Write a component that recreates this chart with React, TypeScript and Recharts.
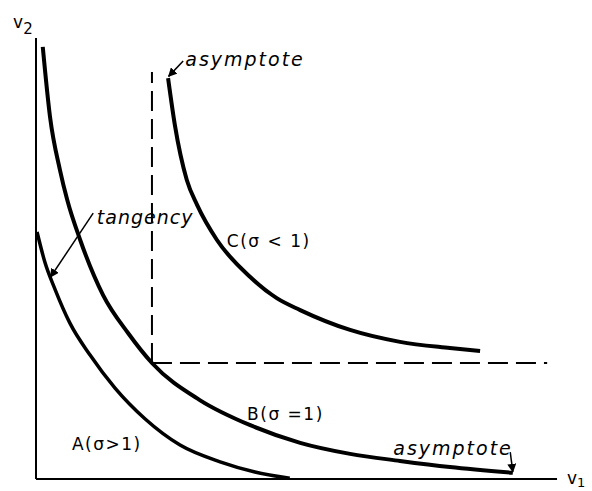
import { LineChart, Line, XAxis, YAxis, ReferenceLine, ReferenceDot } from 'recharts'

// isoquants; v1 runs along x, v2 up y, both in arbitrary units 0-10
const aV1 = [0.02, 0.17, 0.37, 0.65, 1.04, 1.52, 2.1, 2.77, 3.54, 4.21, 4.88]
const aV2 = [5.6, 4.92, 4.29, 3.54, 2.81, 2.06, 1.36, 0.77, 0.39, 0.16, 0.02]

const bV1 = [0.13, 0.27, 0.46, 0.6, 0.85, 1.29, 1.77, 2.23, 3.15, 4.12, 5.08, 6.04, 7.0, 7.96, 9.17]
const bV2 = [9.8, 8.21, 7.01, 6.33, 5.42, 4.17, 3.31, 2.63, 1.79, 1.22, 0.82, 0.57, 0.41, 0.27, 0.14]

const cV1 = [2.54, 2.67, 2.9, 3.1, 3.48, 4.12, 4.63, 5.08, 6.04, 7.0, 7.96, 8.54]
const cV2 = [9.09, 8.03, 6.78, 6.21, 5.42, 4.58, 4.1, 3.83, 3.38, 3.11, 2.97, 2.9]

// asymptotes of C: v1 = 2.23, v2 = 2.63
const asymV1 = 2.23
const asymV2 = 2.63
const asymTop = 9.23
const asymRight = 9.83

const labelText = ['asymptote', 'tangency', 'C(σ < 1)', 'B(σ =1)', 'A(σ>1)', 'asymptote']
const labelV1 = [2.87, 1.17, 3.67, 4.06, 0.69, 6.87]
const labelV2 = [9.37, 5.78, 5.26, 1.34, 0.66, 0.54]
const labelItalic = [true, true, false, false, false, true]

// arrows: [from, to]
const arrows = [
  [{ x: 2.83, y: 9.48 }, { x: 2.55, y: 9.13 }],
  [{ x: 1.1, y: 6.03 }, { x: 0.28, y: 4.58 }],
  [{ x: 9.12, y: 0.61 }, { x: 9.17, y: 0.16 }],
]

const toPoints = (xs: number[], ys: number[]) => xs.map((x, i) => ({ x, y: ys[i] }))

const dataA = toPoints(aV1, aV2)
const dataB = toPoints(bV1, bV2)
const dataC = toPoints(cV1, cV2)

const font = '"DejaVu Sans", sans-serif'

export default function App() {
  return (
    <div style={{ position: 'absolute', left: 0, top: 0, background: '#fff' }}>
      <LineChart width={592} height={491} margin={{ top: 38, right: 36, bottom: 12, left: 36 }}>
        <defs>
          <marker id="arrowHead" viewBox="0 0 10 10" refX="9" refY="5" markerWidth="6" markerHeight="6" orient="auto">
            <path d="M0,0 L10,5 L0,10 z" fill="#000" />
          </marker>
        </defs>
        <XAxis type="number" dataKey="x" domain={[0, 10]} allowDataOverflow hide />
        <YAxis type="number" dataKey="y" domain={[0, 10]} allowDataOverflow hide />

        {/* axes */}
        <ReferenceLine segment={[{ x: 0, y: 0 }, { x: 0, y: 10 }]} stroke="#000" strokeWidth={2} ifOverflow="visible" />
        <ReferenceLine segment={[{ x: 0, y: 0 }, { x: 10.02, y: 0 }]} stroke="#000" strokeWidth={2} ifOverflow="visible" />

        <ReferenceLine
          segment={[{ x: asymV1, y: asymV2 }, { x: asymV1, y: asymTop }]}
          stroke="#000"
          strokeWidth={2}
          strokeDasharray="20 8"
          ifOverflow="visible"
        />
        <ReferenceLine
          segment={[{ x: asymV1, y: asymV2 }, { x: asymRight, y: asymV2 }]}
          stroke="#000"
          strokeWidth={2}
          strokeDasharray="20 8"
          ifOverflow="visible"
        />

        <Line data={dataA} dataKey="y" type="monotone" stroke="#000" strokeWidth={3.5} dot={false} isAnimationActive={false} />
        <Line data={dataB} dataKey="y" type="monotone" stroke="#000" strokeWidth={4} dot={false} isAnimationActive={false} />
        <Line data={dataC} dataKey="y" type="monotone" stroke="#000" strokeWidth={4} dot={false} isAnimationActive={false} />

        {arrows.map((seg, i) => (
          <ReferenceLine
            key={`arrow-${i}`}
            segment={seg}
            ifOverflow="visible"
            shape={(p: any) => (
              <line x1={p.x1} y1={p.y1} x2={p.x2} y2={p.y2} stroke="#000" strokeWidth={1.5} markerEnd="url(#arrowHead)" />
            )}
          />
        ))}

        {labelText.map((t, i) => (
          <ReferenceDot
            key={`label-${i}`}
            x={labelV1[i]}
            y={labelV2[i]}
            r={0}
            ifOverflow="visible"
            shape={(p: any) => (
              <text
                x={p.cx}
                y={p.cy}
                fontFamily={font}
                fontSize={labelItalic[i] ? 19 : 17}
                fontStyle={labelItalic[i] ? 'italic' : 'normal'}
                letterSpacing={labelItalic[i] ? (t === 'tangency' ? 1 : 2) : 1.5}
                fill="#000"
              >
                {t}
              </text>
            )}
          />
        ))}

        <ReferenceDot
          x={-0.44}
          y={10.23}
          r={0}
          ifOverflow="visible"
          shape={(p: any) => (
            <text x={p.cx} y={p.cy} fontFamily={font} fontSize={17} fill="#000">
              v<tspan fontSize={15} dy={6}>2</tspan>
            </text>
          )}
        />
        <ReferenceDot
          x={10.21}
          y={-0.11}
          r={0}
          ifOverflow="visible"
          shape={(p: any) => (
            <text x={p.cx} y={p.cy} fontFamily={font} fontSize={17} fill="#000">
              v<tspan fontSize={13} dy={3}>1</tspan>
            </text>
          )}
        />
      </LineChart>
    </div>
  )
}
